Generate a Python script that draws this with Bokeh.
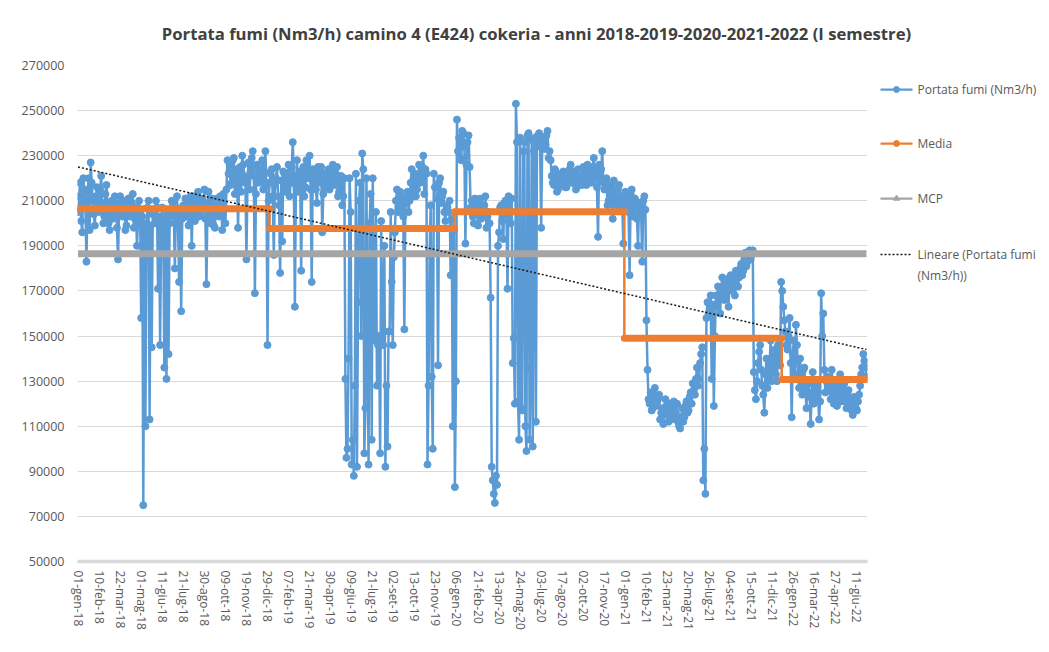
from math import pi
from bokeh.plotting import figure
from bokeh.layouts import row, column
from bokeh.models import FixedTicker, NumeralTickFormatter
from bokeh.core.properties import value
from bokeh.embed import file_html
from bokeh.resources import INLINE

# ---------------- data ----------------
tick_labels = [
    "01-gen-18", "10-feb-18", "22-mar-18", "01-mag-18", "11-giu-18", "21-lug-18",
    "30-ago-18", "09-ott-18", "19-nov-18", "29-dic-18", "07-feb-19", "21-mar-19",
    "30-apr-19", "09-giu-19", "21-lug-19", "02-set-19", "13-ott-19", "23-nov-19",
    "06-gen-20", "21-feb-20", "13-apr-20", "24-mag-20", "03-lug-20", "17-ago-20",
    "02-ott-20", "17-nov-20", "01-gen-21", "10-feb-21", "23-mar-21", "20-mag-21",
    "26-lug-21", "04-set-21", "15-ott-21", "11-dic-21", "26-gen-22", "16-mar-22",
    "27-apr-22", "11-giu-22",
]
label_every = 40    # one date label every 40 daily records (category axis)
read_every = 2      # flow values read every 2 daily records (readings A and B alternate)

# Portata fumi, thousands of Nm3/h -- readings A (records 0, 4, 8, ...)
portata_2018_a = [
    205, 218, 196, 215, 183, 220, 227, 210, 199, 216,
    205, 221, 200, 213, 206, 197, 210, 205, 209, 184,
    212, 203, 208, 199, 211, 205, 213, 202, 190, 210,
    158, 75, 110, 207, 113, 145, 205, 210, 171, 146,
    207, 136, 131, 142, 205, 209, 180, 212, 174, 161,
    208, 211, 203, 209, 190, 212, 206, 214, 204, 210,
    215, 173, 214, 200, 207, 198, 211, 203, 209, 213,
    200, 228, 226, 218, 229, 220, 198, 225, 230, 221,
    184, 227, 223, 232, 169, 226, 218, 222, 215, 232,
    146,
]
portata_2019_a = [
    218, 224, 186, 220, 212, 178, 192, 222, 215, 226,
    218, 236, 163, 228, 220, 179, 225, 216, 223, 230,
    174, 222, 215, 225, 218, 196, 222, 216, 224, 219,
    226, 217, 225, 214, 221, 212, 131, 100, 220, 93,
    88, 222, 165, 218, 231, 98, 220, 93, 213, 220,
    148, 128, 150, 201, 146, 92, 101, 152, 174, 185,
    210, 205, 214, 207, 153, 212, 205, 218, 212, 222,
    215, 226, 219, 230, 224, 93, 186, 132, 222, 216,
    137, 220, 212, 205, 208, 205, 177, 110, 83,
]
portata_2020_a = [
    246, 238, 228, 240, 191, 236, 225, 210, 200, 207,
    199, 211, 203, 208, 198, 205, 167, 86, 76, 84,
    196, 208, 193, 210, 171, 206, 211, 149, 253, 121,
    238, 117, 236, 99, 240, 136, 101, 238, 236, 240,
    198, 238, 235, 241, 232, 221, 217, 223, 215, 220,
    217, 222, 216, 219, 226, 218, 223, 216, 221, 219,
    225, 220, 226, 222, 218, 229, 223, 194, 221, 232,
    215, 220, 210, 216, 202, 214, 208, 217, 212, 191,
    214,
]
portata_2021_a = [
    211, 177, 215, 206, 210, 190, 208, 183, 212, 157,
    122, 125, 118, 127, 121, 124, 116, 111, 122, 115,
    120, 113, 121, 116, 112, 109, 118, 114, 121, 117,
    125, 129, 124, 136, 131, 142, 86, 80, 165, 162,
    131, 119, 168, 172, 160, 176, 166, 174, 163, 177,
    170, 168, 178, 176, 182, 179, 187, 183, 188, 186,
    134, 122, 138, 146, 128, 116, 140, 132, 148, 136,
    144, 130, 141,
]
portata_2022_a = [
    174, 163, 152, 144, 158, 114, 148, 155, 132, 140,
    124, 136, 118, 129, 111, 134, 122, 128, 113, 169,
    160, 125, 132, 127, 135, 120, 130, 124, 133, 122,
    129, 118, 126, 121, 115, 119, 117, 124, 133, 142,
    136,
]

# readings B (records 2, 6, 10, ...)
portata_2018_b = [
    212, 201, 220, 208, 214, 197, 218, 204, 212, 208,
    215, 209, 203, 217, 200, 208, 202, 212, 198, 206,
    204, 210, 197, 206, 203, 209, 198, 207, 201, 205,
    203, 200, 195, 210, 199, 204, 200, 207, 203, 201,
    198, 206, 204, 200, 210, 203, 207, 199, 205, 202,
    204, 207, 199, 212, 206, 201, 209, 203, 211, 207,
    202, 209, 205, 211, 199, 208, 204, 212, 197, 206,
    215, 222, 217, 228, 213, 224, 219, 214, 226, 218,
    220, 215, 229, 221, 213, 224, 219, 228, 223, 217,
    210,
]
portata_2019_b = [
    222, 212, 217, 225, 208, 219, 223, 214, 220, 212,
    225, 221, 217, 214, 223, 219, 212, 228, 220, 215,
    224, 218, 209, 220, 225, 213, 219, 222, 215, 221,
    218, 222, 212, 219, 208, 220, 96, 140, 205, 104,
    128, 92, 210, 150, 224, 118, 145, 200, 104, 150,
    205, 146, 98, 149, 190, 128, 152, 205, 146, 196,
    215, 208, 211, 203, 209, 214, 210, 224, 217, 212,
    221, 218, 225, 213, 222, 128, 208, 100, 216, 211,
    218, 209, 214, 201, 207, 210, 202, 197, 130,
]
portata_2020_b = [
    232, 229, 241, 234, 226, 239, 207, 203, 211, 205,
    209, 202, 207, 212, 203, 200, 92, 80, 88, 190,
    207, 201, 209, 204, 212, 200, 138, 120, 236, 104,
    118, 232, 110, 239, 104, 237, 232, 112, 239, 234,
    237, 233, 239, 229, 228, 218, 224, 214, 221, 218,
    223, 216, 221, 224, 218, 221, 215, 224, 220, 217,
    222, 217, 223, 219, 225, 220, 216, 226, 224, 218,
    218, 208, 217, 211, 219, 210, 215, 206, 209, 210,
    208,
]
portata_2021_b = [
    205, 213, 203, 211, 202, 209, 204, 210, 206, 135,
    120, 117, 124, 119, 122, 113, 118, 116, 119, 112,
    117, 119, 114, 120, 110, 114, 112, 119, 116, 123,
    120, 126, 131, 128, 138, 145, 100, 158, 160, 168,
    164, 150, 163, 167, 171, 168, 173, 170, 176, 172,
    175, 179, 172, 180, 177, 184, 181, 186, 184, 188,
    126, 130, 143, 135, 124, 133, 127, 138, 130, 141,
    133, 146, 137,
]
portata_2022_b = [
    170, 157, 146, 150, 138, 142, 133, 146, 127, 131,
    135, 126, 130, 123, 125, 120, 130, 125, 121, 150,
    135, 130, 126, 122, 128, 125, 119, 127, 121, 126,
    121, 124, 120, 117, 123, 118, 121, 128, 136, 139,
    132,
]

media_values = [206500, 197700, 205100, 149000, 130700]   # yearly mean
year_bounds = [0, 364, 715, 1038, 1337, 1498]              # record index of year changes
mcp_value = 186500
trend_values = [225000, 144000]                            # linear trend at first / last record

y_ticks = list(range(50000, 270001, 20000))

title_text = "Portata fumi (Nm3/h) camino 4 (E424) cokeria - anni 2018-2019-2020-2021-2022 (I semestre)"
legend_labels = ["Portata fumi (Nm3/h)", "Media", "MCP", "Lineare (Portata fumi\n(Nm3/h))"]

# ---------------- build ----------------
reads_a = portata_2018_a + portata_2019_a + portata_2020_a + portata_2021_a + portata_2022_a
reads_b = portata_2018_b + portata_2019_b + portata_2020_b + portata_2021_b + portata_2022_b
portata = []
for a, b in zip(reads_a, reads_b):
    portata += [a * 1000, b * 1000]
x_portata = [i * read_every for i in range(len(portata))]

BLUE = "#5B9BD5"
ORANGE = "#ED7D31"
GRAY = "#A5A5A5"
DARK = "#1a1a1a"
TXT = "#595959"
FONT = "Open Sans"

TITLE_H = 50

# ---------------- title strip ----------------
tf = figure(width=1041, height=TITLE_H, output_backend="svg", toolbar_location=None,
            x_range=(0, 1041), y_range=(TITLE_H, 0), min_border=0,
            background_fill_color="white", border_fill_color="white")
tf.outline_line_color = None
tf.axis.visible = False
tf.grid.visible = False
tf.text(x=[536], y=[33], text=[title_text], text_font=value(FONT), text_font_size="16.7px",
        text_font_style="bold", text_color="#404040", text_align="center", text_baseline="middle")

# ---------------- main chart ----------------
p = figure(width=868, height=644 - TITLE_H, output_backend="svg", toolbar_location=None,
           x_range=(-1, 1500), y_range=(50000, 270000),
           min_border_left=77, min_border_right=1, min_border_top=65 - TITLE_H, min_border_bottom=83,
           background_fill_color="white", border_fill_color="white")
p.outline_line_color = None

p.line(x_portata, portata, line_width=2.5, color=BLUE)
p.scatter(x_portata, portata, size=7, color=BLUE)

p.segment(x0=year_bounds[:-1], x1=year_bounds[1:], y0=media_values, y1=media_values,
          line_width=7, color=ORANGE, line_cap="round")
p.segment(x0=year_bounds[1:-1], x1=year_bounds[1:-1], y0=media_values[:-1], y1=media_values[1:],
          line_width=2.5, color=ORANGE)

p.line([year_bounds[0], year_bounds[-1]], [mcp_value, mcp_value], line_width=7, color=GRAY)

p.line([year_bounds[0], year_bounds[-1]], trend_values, line_width=1.5,
       line_dash="2 2", color=DARK)

p.xaxis.ticker = FixedTicker(ticks=[i * label_every for i in range(len(tick_labels))])
p.xaxis.major_label_overrides = {i * label_every: lab for i, lab in enumerate(tick_labels)}
p.xaxis.major_label_orientation = -pi / 2
p.xaxis.axis_line_color = "#D9D9D9"
p.xaxis.axis_line_width = 3.5
p.xaxis.major_tick_line_color = None
p.xaxis.major_tick_out = 0
p.xaxis.minor_tick_line_color = None
p.xaxis.major_label_standoff = 9
p.xaxis.major_label_text_font = FONT
p.xaxis.major_label_text_font_size = "12px"
p.xaxis.major_label_text_color = TXT

p.yaxis.ticker = FixedTicker(ticks=y_ticks)
p.yaxis.formatter = NumeralTickFormatter(format="0")
p.yaxis.axis_line_color = None
p.yaxis.major_tick_line_color = None
p.yaxis.major_tick_out = 0
p.yaxis.minor_tick_line_color = None
p.yaxis.major_label_standoff = 13
p.yaxis.major_label_text_font = FONT
p.yaxis.major_label_text_font_size = "12.5px"
p.yaxis.major_label_text_color = TXT

p.xgrid.grid_line_color = None
p.ygrid.ticker = FixedTicker(ticks=y_ticks[1:])
p.ygrid.grid_line_color = "#D9D9D9"
p.ygrid.grid_line_width = 1

# ---------------- legend panel (its frame is aligned with the chart frame; y in page pixels) ----------------
lg = figure(width=173, height=644 - TITLE_H, output_backend="svg", toolbar_location=None,
            x_range=(0, 173), y_range=(561, 65), min_border=0,
            background_fill_color="white", border_fill_color="white")
lg.outline_line_color = None
lg.axis.visible = False
lg.grid.visible = False

row_y = [89, 143, 198, 254]
gx0, gx1, tx = 12, 44, 49
gxm = (gx0 + gx1) / 2
lg.line([gx0, gx1], [row_y[0]] * 2, line_width=2.25, color=BLUE)
lg.scatter([gxm], [row_y[0]], size=6, color=BLUE)
lg.line([gx0, gx1], [row_y[1]] * 2, line_width=2.25, color=ORANGE)
lg.scatter([gxm], [row_y[1]], size=6, color=ORANGE)
lg.line([gx0, gx1], [row_y[2]] * 2, line_width=2.25, color=GRAY)
lg.scatter([gxm], [row_y[2]], size=6, marker="triangle", color=GRAY)
lg.line([gx0, gx1], [row_y[3]] * 2, line_width=1.3, line_dash="2 2", color=DARK)
lg.text(x=[tx] * 4, y=[y - 9 for y in row_y], text=legend_labels,
        text_font=value(FONT), text_font_size="12px", text_color=TXT,
        text_baseline="top", text_align="left", text_line_height=1.25)

open("out.html", "w").write(file_html(column(tf, row(p, lg)), INLINE))
